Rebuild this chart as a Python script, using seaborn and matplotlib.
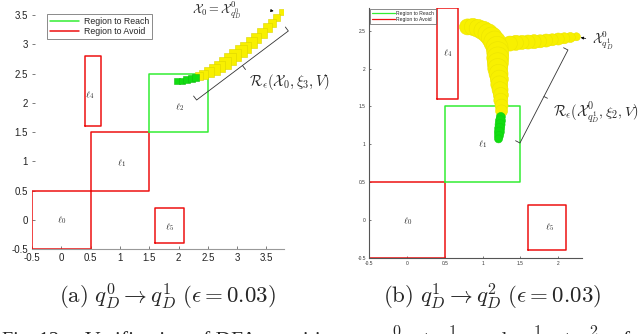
import numpy as np
import pandas as pd
import matplotlib
matplotlib.use("Agg")
import matplotlib.pyplot as plt
import seaborn as sns
from matplotlib.lines import Line2D

# ---------------- data ----------------
# regions (x0, x1, y0, y1)
left_avoid = {"0": (-0.5, 0.5, -0.5, 0.5), "1": (0.5, 1.5, 0.5, 1.5),
              "4": (0.4, 0.67, 1.6, 2.8), "5": (1.6, 2.1, -0.4, 0.2)}
left_reach = {"2": (1.5, 2.5, 1.5, 2.5)}
right_avoid = {"0": (-0.5, 0.5, -0.5, 0.5), "4": (0.4, 0.68, 1.6, 2.8),
               "5": (1.6, 2.1, -0.4, 0.2)}
right_reach = {"1": (0.5, 1.5, 0.5, 1.5)}

left_labels = {"0": (0.0, 0.0), "1": (1.03, 0.96), "4": (0.49, 2.13), "5": (1.85, -0.12), "2": (2.02, 1.93)}
right_labels = {"0": (0.01, -0.02), "1": (1.0, 1.0), "4": (0.54, 2.2), "5": (1.88, -0.1)}

# left reach tube (yellow squares) and final set (green)
left_tube_x = [3.76, 3.68, 3.60, 3.51, 3.42, 3.33, 3.24, 3.15, 3.06, 2.97, 2.88, 2.79,
               2.70, 2.61, 2.52, 2.43, 2.35]
left_tube_y = [3.56, 3.46, 3.37, 3.28, 3.19, 3.11, 3.03, 2.95, 2.88, 2.81, 2.74, 2.68,
               2.62, 2.57, 2.52, 2.48, 2.45]
left_tube_px = [6, 7, 8, 9, 10, 10, 11, 11, 12, 12, 12, 12, 11, 11, 10, 9, 8]
left_end_x = [1.98, 2.06, 2.14, 2.22, 2.29]
left_end_y = [2.37, 2.38, 2.395, 2.41, 2.43]
left_end_px = [6, 6, 7, 7, 7]

# right reach tube (yellow blobs) and final set (green)
right_tube_x = [2.24, 2.16, 2.08, 2.00, 1.92, 1.84, 1.76, 1.68, 1.60, 1.52, 1.44, 1.36,
                0.80, 0.87, 0.94, 1.01, 1.07, 1.12, 1.16, 1.19, 1.20, 1.20, 1.20, 1.20,
                1.21, 1.22, 1.22, 1.23, 1.24, 1.24, 1.25, 1.25]
right_tube_y = [2.42, 2.41, 2.40, 2.39, 2.38, 2.37, 2.36, 2.355, 2.35, 2.345, 2.34, 2.33,
                2.55, 2.55, 2.53, 2.50, 2.46, 2.41, 2.35, 2.28, 2.21, 2.14, 2.07, 2.00,
                1.93, 1.86, 1.79, 1.72, 1.65, 1.58, 1.51, 1.44]
right_tube_px = [8, 10, 11, 12, 12, 13, 13, 14, 14, 14, 15, 15,
                 16, 17, 18, 19, 20, 21, 22, 22, 22, 22, 21, 20,
                 19, 18, 17, 16, 15, 14, 13, 12]
right_end_x = [1.24, 1.235, 1.23, 1.225, 1.22, 1.215, 1.21]
right_end_y = [1.36, 1.31, 1.26, 1.21, 1.16, 1.11, 1.07]
right_end_px = [9, 10, 10, 10, 10, 9, 8]

left_xticks = [-0.5, 0, 0.5, 1, 1.5, 2, 2.5, 3, 3.5]
left_yticks = [-0.5, 0, 0.5, 1, 1.5, 2, 2.5, 3, 3.5]
right_xticks = [-0.5, 0, 0.5, 1, 1.5, 2]
right_yticks = [-0.5, 0, 0.5, 1, 1.5, 2, 2.5]

# annotation geometry (data coords)
left_bracket_x = [2.257, 2.309, 3.874, 3.823]
left_bracket_y = [2.115, 2.047, 3.227, 3.295]
left_tick_x = [3.091, 3.143]
left_tick_y = [2.637, 2.568]
right_bracket_x = [1.435, 1.493, 2.128, 2.070]
right_bracket_y = [1.046, 1.016, 2.245, 2.275]
right_tick_x = [1.811, 1.857]
right_tick_y = [1.630, 1.607]

RED = "#ee1111"
GREEN = "#33ee33"
YELLOW = "#f8f000"
DGREEN = "#11dd11"

sns.set_theme(style="white")
plt.rcParams["font.family"] = ["Liberation Sans", "DejaVu Sans"]
plt.rcParams["mathtext.fontset"] = "cm"

fig = plt.figure(figsize=(6.4, 3.34), dpi=100)
axL = fig.add_axes([32 / 640, 85 / 334, 252 / 640, 241 / 334])
axR = fig.add_axes([369.3 / 640, 76.3 / 334, 212.4 / 640, 249.7 / 334])

def draw_rects(ax, regions, color, lw):
    for k, (x0, x1, y0, y1) in regions.items():
        df = pd.DataFrame({"x": [x0, x1, x1, x0, x0], "y": [y0, y0, y1, y1, y0]})
        sns.lineplot(data=df, x="x", y="y", sort=False, estimator=None,
                     color=color, lw=lw, ax=ax, legend=False)

def draw_tube(ax, xs, ys, px, color, marker, ec):
    sizes = [(p * 0.72) ** 2 for p in px]
    sns.scatterplot(x=xs, y=ys, s=sizes, marker=marker, color=color,
                    edgecolor=ec, linewidth=0.4, ax=ax, legend=False, zorder=3)

# ---------- left panel ----------
draw_rects(axL, left_avoid, RED, 1.1)
draw_rects(axL, left_reach, GREEN, 1.1)
draw_tube(axL, left_tube_x, left_tube_y, left_tube_px, YELLOW, "s", "#dcd400")
draw_tube(axL, left_end_x, left_end_y, left_end_px, DGREEN, "s", "#10c010")
for k, (x, y) in left_labels.items():
    axL.text(x, y, rf"$\ell_{k}$", fontsize=7, ha="center", va="center")
axL.set_xlim(-0.5, 3.8)
axL.set_ylim(-0.5, 3.62)
axL.set_xticks(left_xticks)
axL.set_yticks(left_yticks)
axL.set_xticklabels([f"{v:g}" for v in left_xticks])
axL.set_yticklabels([f"{v:g}" for v in left_yticks])
axL.tick_params(direction="in", length=2, width=0.6, color="#666666",
                labelsize=7, labelcolor="#222222", pad=3, left=True, bottom=True)
for s in ["top", "right", "left"]:
    axL.spines[s].set_visible(False)
axL.spines["bottom"].set_color("#999999")
axL.spines["bottom"].set_linewidth(0.8)
axL.set_xlabel("")
axL.set_ylabel("")
axL.patch.set_alpha(0)
hL = [Line2D([], [], color=GREEN, lw=1.1), Line2D([], [], color=RED, lw=1.1)]
legL = axL.legend(hL, ["Region to Reach", "Region to Avoid"], loc="upper left",
                  bbox_to_anchor=(15 / 252, 1 - 6 / 241), fontsize=6.3, frameon=True,
                  fancybox=False, borderpad=0.3, handlelength=3.3, labelspacing=0.15,
                  handletextpad=0.6, borderaxespad=0)
legL.get_frame().set_edgecolor("#555555")
legL.get_frame().set_linewidth(0.6)

axL.plot(left_bracket_x, left_bracket_y, color="#333333", lw=0.6, clip_on=False)
axL.plot(left_tick_x, left_tick_y, color="#333333", lw=0.6, clip_on=False)
axL.text(3.21, 2.355, r"$\mathcal{R}_\epsilon(\mathcal{X}_0,\xi_3,V)$", fontsize=10.5,
         ha="left", va="center", clip_on=False)
axL.text(2.65, 3.58, r"$\mathcal{X}_0=\mathcal{X}^0_{q^0_D}$", fontsize=9,
         ha="center", va="center", clip_on=False)
axL.annotate("", xy=(3.67, 3.56), xytext=(3.55, 3.58),
             arrowprops=dict(arrowstyle="-|>", color="black", lw=0.5,
                             mutation_scale=4), annotation_clip=False)

# ---------- right panel ----------
draw_rects(axR, right_avoid, RED, 1.1)
draw_rects(axR, right_reach, GREEN, 1.1)
draw_tube(axR, right_tube_x, right_tube_y, right_tube_px, YELLOW, "o", "#ece400")
draw_tube(axR, right_end_x, right_end_y, right_end_px, DGREEN, "o", "#10d010")
for k, (x, y) in right_labels.items():
    axR.text(x, y, rf"$\ell_{k}$", fontsize=7, ha="center", va="center")
axR.set_xlim(-0.5, 2.31)
axR.set_ylim(-0.5, 2.8)
axR.set_xticks(right_xticks)
axR.set_yticks(right_yticks)
axR.set_xticklabels([f"{v:g}" for v in right_xticks])
axR.set_yticklabels([f"{v:g}" for v in right_yticks])
axR.tick_params(direction="in", length=1.5, width=0.5, color="#444444",
                labelsize=3.5, labelcolor="#333333", pad=2.5, left=True, bottom=True)
for s in ["top", "right"]:
    axR.spines[s].set_visible(False)
for s in ["left", "bottom"]:
    axR.spines[s].set_color("#555555")
    axR.spines[s].set_linewidth(0.8)
axR.set_xlabel("")
axR.set_ylabel("")
axR.patch.set_alpha(0)
hR = [Line2D([], [], color=GREEN, lw=0.9), Line2D([], [], color=RED, lw=0.9)]
legR = axR.legend(hR, ["Region to Reach", "Region to Avoid"], loc="upper left",
                  bbox_to_anchor=(1 / 212.4, 1 - 1 / 249.7), fontsize=3.6, frameon=True,
                  fancybox=False, borderpad=0.35, handlelength=4.5, labelspacing=0.2,
                  handletextpad=0.3, borderaxespad=0)
legR.get_frame().set_edgecolor("#555555")
legR.get_frame().set_linewidth(0.6)

axR.plot(right_bracket_x, right_bracket_y, color="#333333", lw=0.6, clip_on=False)
axR.plot(right_tick_x, right_tick_y, color="#333333", lw=0.6, clip_on=False)
axR.text(1.93, 1.43, r"$\mathcal{R}_\epsilon(\mathcal{X}^0_{q^1_D},\xi_2,V)$", fontsize=10.3,
         ha="left", va="center", clip_on=False)
axR.text(2.45, 2.37, r"$\mathcal{X}^0_{q^1_D}$", fontsize=9.5,
         ha="left", va="center", clip_on=False)
axR.annotate("", xy=(2.26, 2.416), xytext=(2.40, 2.39),
             arrowprops=dict(arrowstyle="-|>", color="black", lw=0.5,
                             mutation_scale=4), annotation_clip=False)

# ---------- captions ----------
fig.text(167 / 640, 37 / 334, r"$\mathrm{(a)}\ q^0_D \rightarrow q^1_D\ (\epsilon = 0.03)$",
         fontsize=16.5, ha="center", va="center")
fig.text(492 / 640, 37 / 334, r"$\mathrm{(b)}\ q^1_D \rightarrow q^2_D\ (\epsilon = 0.03)$",
         fontsize=16.5, ha="center", va="center")
# figure caption line (cut off by the bottom edge, as in the reference)
ybase = -12 / 334
fig.text(2 / 640, ybase, "Fig. 12.", family="Liberation Serif",
         fontsize=14.5, ha="left", va="baseline")
fig.text(85 / 640, ybase, "Verification of DFA transitions", family="Liberation Serif",
         fontsize=15.5, ha="left", va="baseline")
fig.text(381 / 640, ybase, r"$q^0_D\rightarrow q^1_D$", fontsize=16.5, ha="left", va="baseline")
fig.text(476 / 640, ybase, "and", family="Liberation Serif",
         fontsize=15.5, ha="left", va="baseline")
fig.text(522 / 640, ybase, r"$q^1_D\rightarrow q^2_D$", fontsize=16.5, ha="left", va="baseline")
fig.text(612 / 640, ybase, "of", family="Liberation Serif",
         fontsize=15.5, ha="left", va="baseline")

fig.savefig("out.png", dpi=100)
